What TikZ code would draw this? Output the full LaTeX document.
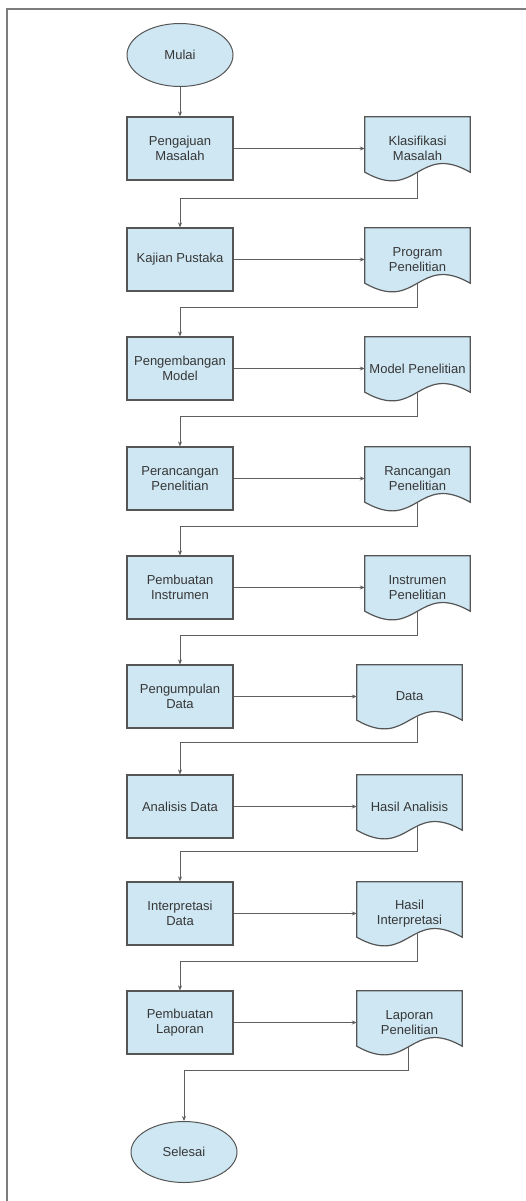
\documentclass[tikz,border=0pt]{standalone}
\usepackage{fontspec}
\setmainfont{Liberation Sans}
\usetikzlibrary{arrows.meta,shapes.geometric,backgrounds,calc}
\definecolor{fillblue}{RGB}{206,231,243}
\definecolor{edgec}{RGB}{85,85,85}
\definecolor{txtc}{RGB}{55,55,55}
\definecolor{linec}{RGB}{95,95,95}
\definecolor{framec}{RGB}{125,125,125}
\begin{document}
\begin{tikzpicture}[x=1pt,y=-1pt,
  font=\fontsize{13}{15}\selectfont,
  procbox/.style={draw=edgec, line width=1.2pt, fill=fillblue, minimum width=106pt, minimum height=63pt, align=center, text=txtc, inner sep=1pt},
  docnode/.style={minimum width=105pt, minimum height=63pt, align=center, text=txtc, inner sep=0pt},
  termnode/.style={ellipse, draw=edgec, line width=1pt, fill=fillblue, minimum width=106pt, minimum height=63pt, text=txtc},
  docshape/.style={draw=edgec, line width=1.2pt, fill=fillblue},
  conn/.style={draw=linec, line width=0.9pt, -{Stealth[length=5pt,width=4pt]}}]
\useasboundingbox (0,0) rectangle (526,1201);
\draw[framec, line width=2pt] (7,1201) -- (7,9) -- (526,9);

\node[termnode] (m) at (180,55) {Mulai};

\node[procbox] (b1) at (180,148.5) {Pengajuan\\Masalah};
\node[procbox] (b2) at (180,259.5) {Kajian Pustaka};
\node[procbox] (b3) at (180,368.5) {Pengembangan\\Model};
\node[procbox] (b4) at (180,478.5) {Perancangan\\Penelitian};
\node[procbox] (b5) at (180,587.5) {Pembuatan\\Instrumen};
\node[procbox] (b6) at (180,696.5) {Pengumpulan\\Data};
\node[procbox] (b7) at (180,806.5) {Analisis Data};
\node[procbox] (b8) at (180,913.5) {Interpretasi\\Data};
\node[procbox] (b9) at (180,1022.5) {Pembuatan\\Laporan};

\node[docnode] (d1) at (417.5,148.5) {Klasifikasi\\Masalah};
\node[docnode] (d2) at (417.5,259.5) {Program\\Penelitian};
\node[docnode] (d3) at (417.5,368.5) {Model Penelitian};
\node[docnode] (d4) at (417.5,478.5) {Rancangan\\Penelitian};
\node[docnode] (d5) at (417.5,587.5) {Instrumen\\Penelitian};
\node[docnode] (d6) at (409.5,696.5) {Data};
\node[docnode] (d7) at (409.5,806.5) {Hasil Analisis};
\node[docnode] (d8) at (409.5,913.5) {Hasil\\Interpretasi};
\node[docnode] (d9) at (409.5,1022.5) {Laporan\\Penelitian};

\node[termnode, minimum height=61pt] (s) at (184,1152) {Selesai};

\begin{pgfonlayer}{background}
\foreach \n in {1,...,9}{
  \path[docshape] (d\n.north west) -- (d\n.north east) -- ([yshift=8pt]d\n.south east)
    .. controls ([yshift=38pt]d\n.south) and ([yshift=-22pt]d\n.south) .. ([yshift=8pt]d\n.south west) -- cycle;
}
\end{pgfonlayer}

\draw[conn] (m) -- (b1);
\foreach \n in {1,...,9}{ \draw[conn] (b\n) -- (d\n); }

\draw[conn] ([yshift=8pt]d1.south) |- ([yshift=29pt]b2.north) -- (b2.north);
\draw[conn] ([yshift=8pt]d2.south) |- ([yshift=29pt]b3.north) -- (b3.north);
\draw[conn] ([yshift=8pt]d3.south) |- ([yshift=30pt]b4.north) -- (b4.north);
\draw[conn] ([yshift=8pt]d4.south) |- ([yshift=29pt]b5.north) -- (b5.north);
\draw[conn] ([yshift=8pt]d5.south) |- ([yshift=29pt]b6.north) -- (b6.north);
\draw[conn] ([xshift=7.5pt,yshift=11pt]d6.south) |- ([yshift=32pt]b7.north) -- (b7.north);
\draw[conn] ([xshift=7.5pt,yshift=11pt]d7.south) |- ([yshift=30pt]b8.north) -- (b8.north);
\draw[conn] ([xshift=7.5pt,yshift=11pt]d8.south) |- ([yshift=29pt]b9.north) -- (b9.north);
\draw[conn] ([xshift=-1.5pt,yshift=8pt]d9.south) |- ([yshift=51pt]s.north) -- (s.north);
\end{tikzpicture}
\end{document}
